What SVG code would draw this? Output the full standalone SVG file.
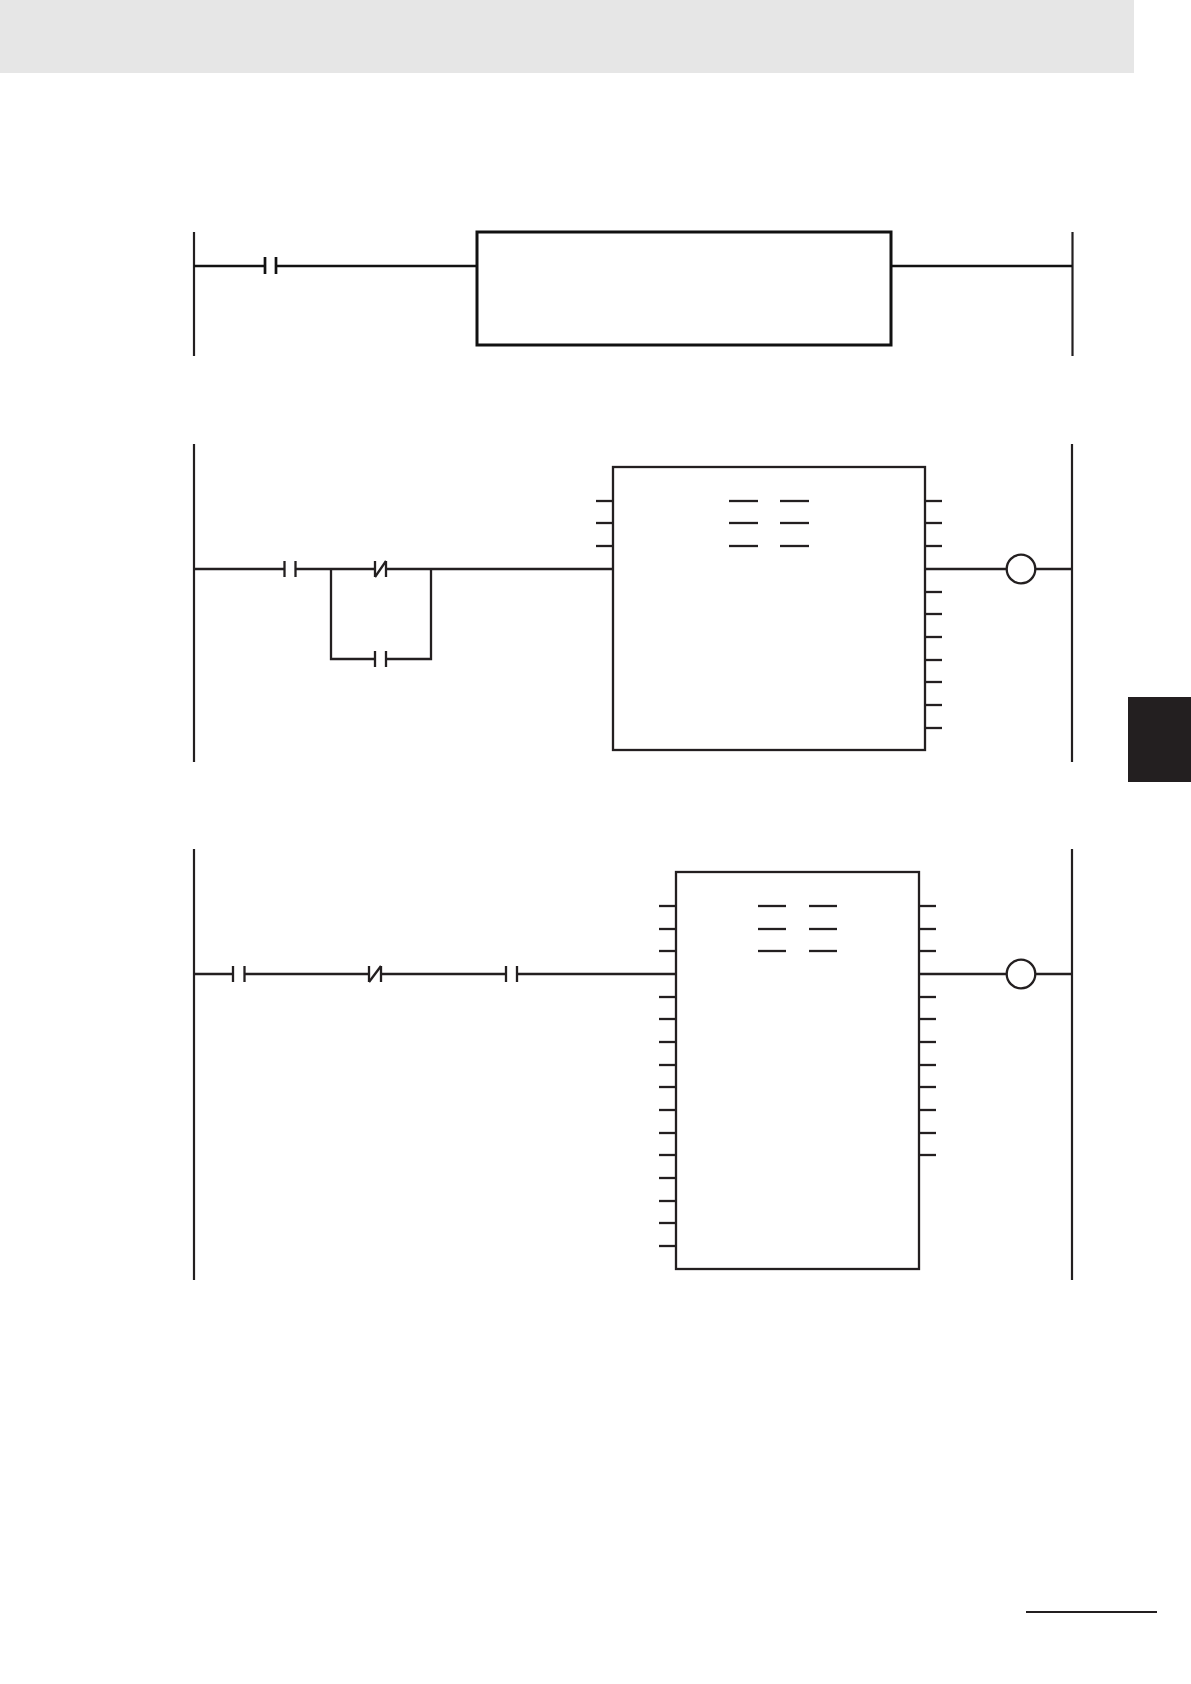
<svg xmlns="http://www.w3.org/2000/svg" width="1191" height="1684" viewBox="0 0 1191 1684">
<defs>
<style>
.w{stroke:#231f20;stroke-width:2.3;fill:none}
.w1{stroke:#111;stroke-width:2.7;fill:none}
.bx{stroke:#231f20;stroke-width:2.3;fill:#fff}
.bx1{stroke:#111;stroke-width:3;fill:#fff}
.rail{stroke:#231f20;stroke-width:2.2;fill:none}
</style>
</defs>
<rect width="1191" height="1684" fill="#fff"/>
<rect id="header" x="0" y="0" width="1134" height="73" fill="#e6e6e6"/>
<rect id="tab" x="1128" y="697" width="63" height="85" fill="#231f20"/>
<line id="footer-line" x1="1026" y1="1612" x2="1157" y2="1612" stroke="#231f20" stroke-width="2"/>

<!-- Rung 1 -->
<g id="rung1-rails">
<line class="rail" x1="194" y1="232" x2="194" y2="356"/>
<line class="rail" x1="1072.5" y1="232" x2="1072.5" y2="356"/>
</g>
<g id="rung1-contact">
<line class="w1" x1="265" y1="257" x2="265" y2="274"/>
<line class="w1" x1="276" y1="257" x2="276" y2="274"/>
</g>
<g id="rung1-box">
<rect class="bx1" x="477" y="232" width="414" height="113"/>
</g>
<g id="rung1-wires">
<line class="w1" x1="194" y1="266" x2="265" y2="266"/>
<line class="w1" x1="276" y1="266" x2="477" y2="266"/>
<line class="w1" x1="891" y1="266" x2="1072" y2="266"/>
</g>

<!-- Rung 2 -->
<g id="rung2-rails">
<line class="rail" x1="194" y1="444" x2="194" y2="762"/>
<line class="rail" x1="1072" y1="444" x2="1072" y2="762"/>
</g>
<g id="rung2-contact1">
<line class="w" x1="284.5" y1="561" x2="284.5" y2="577"/>
<line class="w" x1="295.5" y1="561" x2="295.5" y2="577"/>
</g>
<g id="rung2-contact2-nc">
<line class="w" x1="375" y1="561" x2="375" y2="577"/>
<line class="w" x1="386" y1="561" x2="386" y2="577"/>
<line class="w" x1="375" y1="577" x2="386" y2="561"/>
</g>
<g id="rung2-contact3">
<line class="w" x1="375" y1="651" x2="375" y2="667"/>
<line class="w" x1="386" y1="651" x2="386" y2="667"/>
</g>
<g id="rung2-box">
<rect class="bx" x="613" y="467" width="312" height="283"/>
<g class="w">
<line x1="596" y1="501" x2="613" y2="501"/>
<line x1="596" y1="523" x2="613" y2="523"/>
<line x1="596" y1="546" x2="613" y2="546"/>
<line x1="729" y1="501" x2="758" y2="501"/>
<line x1="780" y1="501" x2="809" y2="501"/>
<line x1="729" y1="523" x2="758" y2="523"/>
<line x1="780" y1="523" x2="809" y2="523"/>
<line x1="729" y1="546" x2="758" y2="546"/>
<line x1="780" y1="546" x2="809" y2="546"/>
<line x1="925" y1="501" x2="942" y2="501"/>
<line x1="925" y1="523" x2="942" y2="523"/>
<line x1="925" y1="546" x2="942" y2="546"/>
<line x1="925" y1="592" x2="942" y2="592"/>
<line x1="925" y1="614" x2="942" y2="614"/>
<line x1="925" y1="637" x2="942" y2="637"/>
<line x1="925" y1="660" x2="942" y2="660"/>
<line x1="925" y1="682" x2="942" y2="682"/>
<line x1="925" y1="705" x2="942" y2="705"/>
<line x1="925" y1="728" x2="942" y2="728"/>
</g>
</g>
<g id="rung2-coil">
<circle class="w" cx="1021" cy="569" r="14.3"/>
</g>
<g id="rung2-wires">
<polyline class="w" points="194,569 284.5,569"/>
<polyline class="w" points="295.5,569 375,569"/>
<polyline class="w" points="386,569 613,569"/>
<polyline class="w" points="331,569 331,659 375,659"/>
<polyline class="w" points="386,659 431,659 431,569"/>
<polyline class="w" points="925,569 1006.7,569"/>
<polyline class="w" points="1035.3,569 1072,569"/>
</g>

<!-- Rung 3 -->
<g id="rung3-rails">
<line class="rail" x1="194" y1="849" x2="194" y2="1280"/>
<line class="rail" x1="1072" y1="849" x2="1072" y2="1280"/>
</g>
<g id="rung3-contact1">
<line class="w" x1="233" y1="966" x2="233" y2="982"/>
<line class="w" x1="244.5" y1="966" x2="244.5" y2="982"/>
</g>
<g id="rung3-contact2-nc">
<line class="w" x1="369" y1="966" x2="369" y2="982"/>
<line class="w" x1="381" y1="966" x2="381" y2="982"/>
<line class="w" x1="369" y1="982" x2="381" y2="966"/>
</g>
<g id="rung3-contact3">
<line class="w" x1="506" y1="966" x2="506" y2="982"/>
<line class="w" x1="517" y1="966" x2="517" y2="982"/>
</g>
<g id="rung3-box">
<rect class="bx" x="676" y="872" width="243" height="397"/>
<g class="w">
<line x1="659" y1="906" x2="676" y2="906"/>
<line x1="659" y1="929" x2="676" y2="929"/>
<line x1="659" y1="951" x2="676" y2="951"/>
<line x1="659" y1="997" x2="676" y2="997"/>
<line x1="659" y1="1019" x2="676" y2="1019"/>
<line x1="659" y1="1042" x2="676" y2="1042"/>
<line x1="659" y1="1065" x2="676" y2="1065"/>
<line x1="659" y1="1087" x2="676" y2="1087"/>
<line x1="659" y1="1110" x2="676" y2="1110"/>
<line x1="659" y1="1133" x2="676" y2="1133"/>
<line x1="659" y1="1155" x2="676" y2="1155"/>
<line x1="659" y1="1178" x2="676" y2="1178"/>
<line x1="659" y1="1201" x2="676" y2="1201"/>
<line x1="659" y1="1223" x2="676" y2="1223"/>
<line x1="659" y1="1246" x2="676" y2="1246"/>
<line x1="758" y1="906" x2="786" y2="906"/>
<line x1="809" y1="906" x2="837" y2="906"/>
<line x1="758" y1="929" x2="786" y2="929"/>
<line x1="809" y1="929" x2="837" y2="929"/>
<line x1="758" y1="951" x2="786" y2="951"/>
<line x1="809" y1="951" x2="837" y2="951"/>
<line x1="919" y1="906" x2="936" y2="906"/>
<line x1="919" y1="929" x2="936" y2="929"/>
<line x1="919" y1="951" x2="936" y2="951"/>
<line x1="919" y1="997" x2="936" y2="997"/>
<line x1="919" y1="1019" x2="936" y2="1019"/>
<line x1="919" y1="1042" x2="936" y2="1042"/>
<line x1="919" y1="1065" x2="936" y2="1065"/>
<line x1="919" y1="1087" x2="936" y2="1087"/>
<line x1="919" y1="1110" x2="936" y2="1110"/>
<line x1="919" y1="1133" x2="936" y2="1133"/>
<line x1="919" y1="1155" x2="936" y2="1155"/>
</g>
</g>
<g id="rung3-coil">
<circle class="w" cx="1021" cy="974" r="14.3"/>
</g>
<g id="rung3-wires">
<line class="w" x1="194" y1="974" x2="233" y2="974"/>
<line class="w" x1="244.5" y1="974" x2="369" y2="974"/>
<line class="w" x1="381" y1="974" x2="506" y2="974"/>
<line class="w" x1="517" y1="974" x2="676" y2="974"/>
<line class="w" x1="919" y1="974" x2="1006.7" y2="974"/>
<line class="w" x1="1035.3" y1="974" x2="1072" y2="974"/>
</g>
</svg>
